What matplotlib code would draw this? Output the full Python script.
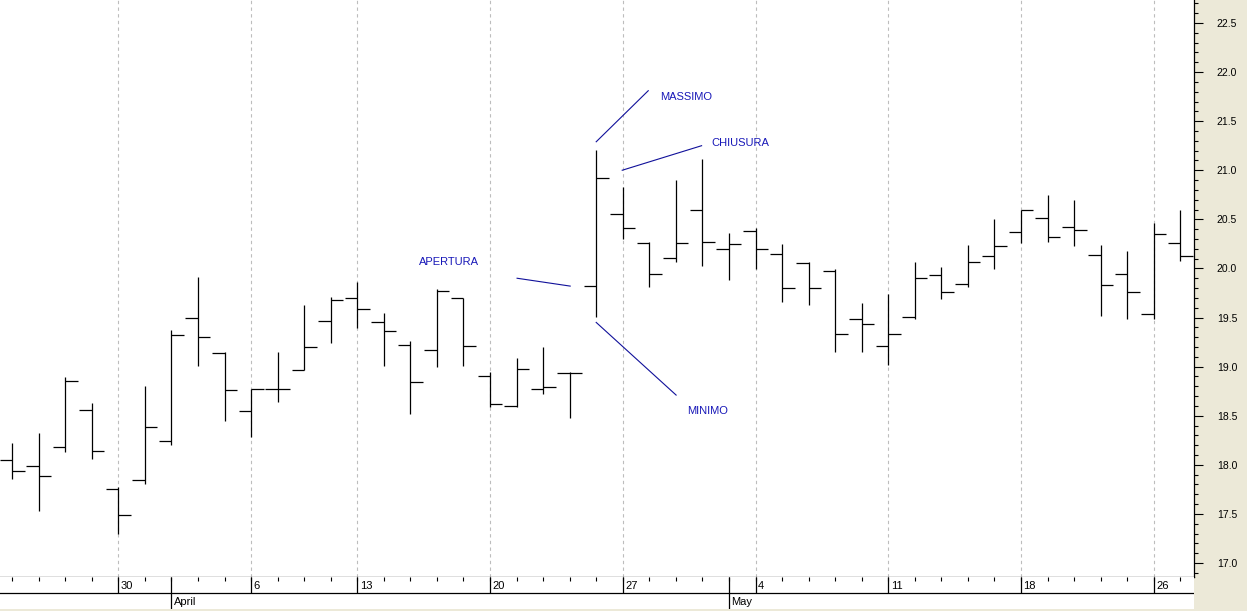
import matplotlib
matplotlib.use('Agg')
import matplotlib.pyplot as plt
from matplotlib.ticker import MultipleLocator, FormatStrFormatter
import numpy as np
import pandas as pd

plt.rcParams['font.family'] = ['Liberation Sans', 'DejaVu Sans']

dates = ['2009-03-24', '2009-03-25', '2009-03-26', '2009-03-27',
         '2009-03-30', '2009-03-31', '2009-04-01', '2009-04-02', '2009-04-03',
         '2009-04-06', '2009-04-07', '2009-04-08', '2009-04-09',
         '2009-04-13', '2009-04-14', '2009-04-15', '2009-04-16', '2009-04-17',
         '2009-04-20', '2009-04-21', '2009-04-22', '2009-04-23', '2009-04-24',
         '2009-04-27', '2009-04-28', '2009-04-29', '2009-04-30', '2009-05-01',
         '2009-05-04', '2009-05-05', '2009-05-06', '2009-05-07', '2009-05-08',
         '2009-05-11', '2009-05-12', '2009-05-13', '2009-05-14', '2009-05-15',
         '2009-05-18', '2009-05-19', '2009-05-20', '2009-05-21', '2009-05-22',
         '2009-05-26', '2009-05-27']

opens = [18.05, 17.99, 18.18, 18.56, 17.75, 17.85, 18.24, 19.50, 19.14,
         18.55, 18.77, 18.97, 19.46, 19.70, 19.45, 19.22, 19.17, 19.70,
         18.90, 18.60, 18.77, 18.93, 19.82, 20.55, 20.26, 20.11, 20.60,
         20.20, 20.38, 20.15, 20.06, 19.97, 19.48, 19.21, 19.51, 19.93,
         19.84, 20.13, 20.37, 20.51, 20.42, 20.14, 19.94, 19.54, 20.26]
highs = [18.22, 18.32, 18.89, 18.63, 17.77, 18.80, 19.37, 19.91, 19.15,
         18.77, 19.15, 19.63, 19.71, 19.86, 19.55, 19.26, 19.79, 19.70,
         18.95, 19.09, 19.20, 18.95, 21.21, 20.83, 20.27, 20.90, 21.11,
         20.36, 20.41, 20.25, 20.07, 19.99, 19.65, 19.74, 20.07, 20.01,
         20.24, 20.50, 20.60, 20.75, 20.70, 20.24, 20.18, 20.46, 20.60]
lows = [17.86, 17.53, 18.13, 18.06, 17.29, 17.80, 18.20, 19.01, 18.45,
        18.28, 18.64, 18.97, 19.24, 19.39, 19.01, 18.52, 19.00, 19.01,
        18.59, 18.59, 18.72, 18.48, 19.51, 20.30, 19.81, 20.07, 20.02,
        19.88, 19.99, 19.66, 19.63, 19.15, 19.15, 19.02, 19.48, 19.69,
        19.81, 19.99, 20.26, 20.27, 20.23, 19.52, 19.48, 19.48, 20.08]
closes = [17.94, 17.89, 18.85, 18.14, 17.49, 18.38, 19.32, 19.30, 18.76,
          18.77, 18.77, 19.20, 19.68, 19.59, 19.36, 18.84, 19.77, 19.21,
          18.62, 18.98, 18.79, 18.93, 20.92, 20.41, 19.94, 20.26, 20.27,
          20.25, 20.20, 19.80, 19.80, 19.33, 19.43, 19.33, 19.90, 19.76,
          20.07, 20.23, 20.60, 20.32, 20.39, 19.83, 19.76, 20.35, 20.13]

month_names = {4: 'April', 5: 'May'}

# annotation text and where it sits (bar index, price)
notes = [('MASSIMO', 24.40, 21.75, (22.00, 21.29), (23.96, 21.81)),
         ('CHIUSURA', 26.35, 21.28, (22.98, 21.00), (25.97, 21.25)),
         ('APERTURA', 15.33, 20.07, (19.02, 19.90), (21.02, 19.82)),
         ('MINIMO', 25.43, 18.55, (22.00, 19.45), (25.01, 18.71))]

d = pd.to_datetime(dates)
x = np.arange(len(d))
week = d.isocalendar().week.values
week_start = [i for i in range(1, len(d)) if week[i] != week[i - 1]]
month_start = [i for i in range(1, len(d)) if d[i].month != d[i - 1].month]

W, H = 1247, 611
fig = plt.figure(figsize=(W / 100, H / 100), dpi=100, facecolor='#ECE9D8')
ax = fig.add_axes([0, 34 / H, 1194 / W, 577 / H], facecolor='white')

px = 26.55
x0 = -12.1 / px
ax.set_xlim(x0, x0 + 1194 / px)
ax.set_ylim(16.857, 22.734)

for i in week_start:
    ax.axvline(i, color='#BDBDBD', lw=0.8, ls=(0, (3, 3)), zorder=1)

tw = 0.47
ax.vlines(x, lows, highs, color='black', lw=0.9, zorder=3)
ax.hlines(opens, x - tw, x, color='black', lw=0.9, zorder=3)
ax.hlines(closes, x, x + tw, color='black', lw=0.9, zorder=3)

for txt, tx, ty, p1, p2 in notes:
    ax.plot([p1[0], p2[0]], [p1[1], p2[1]], color='#10109A', lw=0.8, zorder=2)
    ax.text(tx, ty, txt, color='#1818B8', fontsize=8, ha='left', va='center')

for s in ['left', 'top']:
    ax.spines[s].set_visible(False)
ax.spines['right'].set_linewidth(0.9)
ax.spines['bottom'].set_linewidth(0.9)
ax.set_xticks([])
ax.yaxis.tick_right()
ax.yaxis.set_major_locator(MultipleLocator(0.5))
ax.yaxis.set_minor_locator(MultipleLocator(0.1))
ax.yaxis.set_major_formatter(FormatStrFormatter('%.1f'))
ax.tick_params(axis='y', which='major', direction='out', length=6.5, width=0.8,
               pad=10, labelsize=7.5, colors='black')
ax.tick_params(axis='y', which='minor', direction='out', length=3, width=0.8)

# date strip
ax2 = fig.add_axes([0, 2 / H, 1194 / W, 32 / H], facecolor='white')
ax2.set_xlim(ax.get_xlim())
ax2.set_ylim(0, 2)
ax2.axis('off')
ax2.add_patch(plt.Rectangle((0, 0), 1, 1, transform=ax2.transAxes,
                            facecolor='white', edgecolor='none', zorder=0))
ax2.axhline(1, color='black', lw=0.9)
ax2.vlines(x, 2 - 0.27, 2, color='black', lw=0.8)
for i in week_start:
    ax2.vlines(i, 1, 2, color='black', lw=0.9)
    ax2.text(i + 2.5 / px, 1.45, str(d[i].day), fontsize=8, ha='left', va='center')
for i in month_start:
    ax2.vlines(i, 0, 2, color='black', lw=0.9)
    ax2.text(i + 2.5 / px, 0.45, month_names[d[i].month], fontsize=8,
             ha='left', va='center')

fig.savefig('out.png', dpi=100, facecolor=fig.get_facecolor())
